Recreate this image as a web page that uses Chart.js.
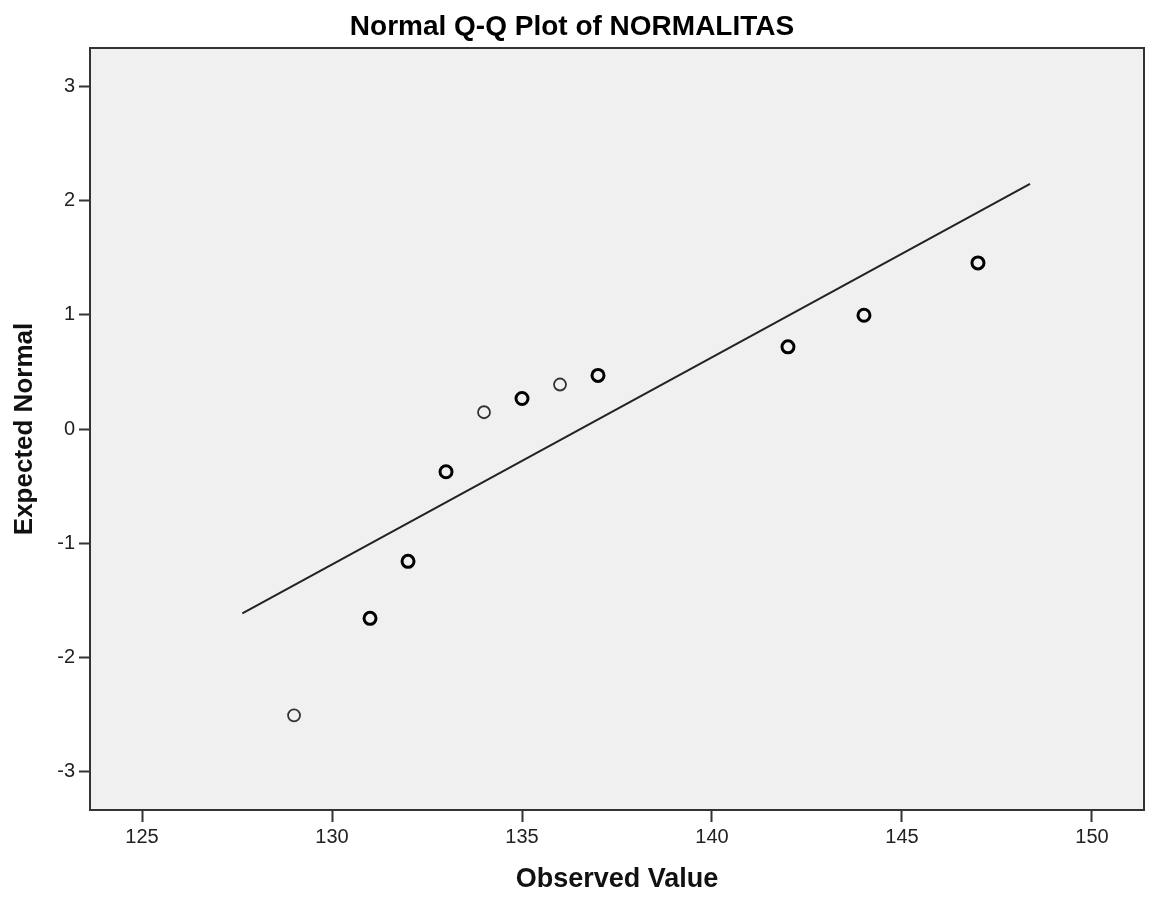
<!DOCTYPE html>
<html>
<head>
<meta charset="utf-8">
<script src="https://cdn.jsdelivr.net/npm/chart.js@4/dist/chart.umd.min.js"></script>
<style>
    body { margin: 0; background: #fff; }
    #wrap { width: 1154px; height: 897px; }
</style>
</head>
<body>
<div id="wrap"><canvas id="qqChart" width="1154" height="897"></canvas></div>
<script>
const observed = [129, 131, 132, 133, 134, 135, 136, 137, 142, 144, 147];
const expected = [-2.51, -1.66, -1.16, -0.375, 0.147, 0.267, 0.39, 0.47, 0.72, 0.997, 1.456];
// points drawn heavier in the picture (tied values)
const counts = [1, 2, 2, 2, 1, 2, 1, 2, 2, 2, 2];

// reference line end points
const lineX = [127.64, 148.37];
const lineY = [-1.616, 2.148];

const xTicks = [125, 130, 135, 140, 145, 150];
const yTicks = [-3, -2, -1, 0, 1, 2, 3];

const FONT = "'Liberation Sans', Arial, sans-serif";

const plotFrame = {
    id: 'plotFrame',
    beforeDraw(chart) {
        const {ctx, chartArea: a} = chart;
        ctx.save();
        ctx.fillStyle = '#f0f0f0';
        ctx.fillRect(a.left, a.top, a.right - a.left, a.bottom - a.top);
        ctx.restore();
    },
    afterDraw(chart) {
        const {ctx, chartArea: a} = chart;
        ctx.save();
        ctx.strokeStyle = '#333';
        ctx.lineWidth = 2;
        ctx.strokeRect(a.left, a.top, a.right - a.left, a.bottom - a.top);
        ctx.restore();
    }
};

const ctx = document.getElementById('qqChart').getContext('2d');

const data = {
    datasets: [{
        type: 'scatter',
        label: 'Observed',
        data: observed.map((v, i) => ({x: v, y: expected[i]})),
        pointRadius: 6,
        pointHoverRadius: 6,
        pointBackgroundColor: 'rgba(0,0,0,0)',
        pointBorderColor: counts.map(c => c > 1 ? '#000' : '#333'),
        pointBorderWidth: counts.map(c => c > 1 ? 3 : 1.8)
    }, {
        type: 'scatter',
        label: 'Line',
        data: lineX.map((v, i) => ({x: v, y: lineY[i]})),
        showLine: true,
        borderColor: '#222',
        borderWidth: 2,
        pointRadius: 0,
        clip: false
    }]
};

const config = {
    type: 'scatter',
    data,
    options: {
        responsive: false,
        animation: false,
        layout: {
            padding: {left: 0, right: 10, top: 0, bottom: 0}
        },
        plugins: {
            legend: {display: false},
            tooltip: {enabled: false},
            title: {
                display: true,
                text: 'Normal Q-Q Plot of NORMALITAS',
                color: '#000',
                font: {family: FONT, size: 28, weight: 'bold', lineHeight: 1.2},
                padding: {top: 10, bottom: 4.4}
            }
        },
        scales: {
            x: {
                type: 'linear',
                position: 'bottom',
                min: 123.63,
                max: 151.37,
                afterBuildTicks: (scale) => {
                    scale.ticks = xTicks.map(v => ({value: v}));
                },
                afterFit: (scale) => {
                    scale.height = 87;
                },
                grid: {
                    drawOnChartArea: false,
                    drawTicks: true,
                    tickLength: 12,
                    tickWidth: 2,
                    tickColor: '#333'
                },
                border: {display: false},
                ticks: {
                    color: '#222',
                    padding: 3,
                    font: {family: FONT, size: 20},
                    callback: (v) => v
                },
                title: {
                    display: true,
                    text: 'Observed Value',
                    color: '#111',
                    font: {family: FONT, size: 27, weight: 'bold', lineHeight: 1.2},
                    padding: {top: 0, bottom: 1.4}
                }
            },
            y: {
                type: 'linear',
                position: 'left',
                min: -3.34,
                max: 3.34,
                afterBuildTicks: (scale) => {
                    scale.ticks = yTicks.map(v => ({value: v}));
                },
                afterFit: (scale) => {
                    scale.width = 90;
                },
                grid: {
                    drawOnChartArea: false,
                    drawTicks: true,
                    tickLength: 11,
                    tickWidth: 2,
                    tickColor: '#333'
                },
                border: {display: false},
                ticks: {
                    color: '#222',
                    padding: 4,
                    font: {family: FONT, size: 20},
                    callback: (v) => v
                },
                title: {
                    display: true,
                    text: 'Expected Normal',
                    color: '#111',
                    font: {family: FONT, size: 26, weight: 'bold', lineHeight: 1.2},
                    padding: {top: 9.4, bottom: 0}
                }
            }
        }
    },
    plugins: [plotFrame]
};

var qqChart = new Chart(
    ctx,
    config
);
</script>
</body>
</html>
